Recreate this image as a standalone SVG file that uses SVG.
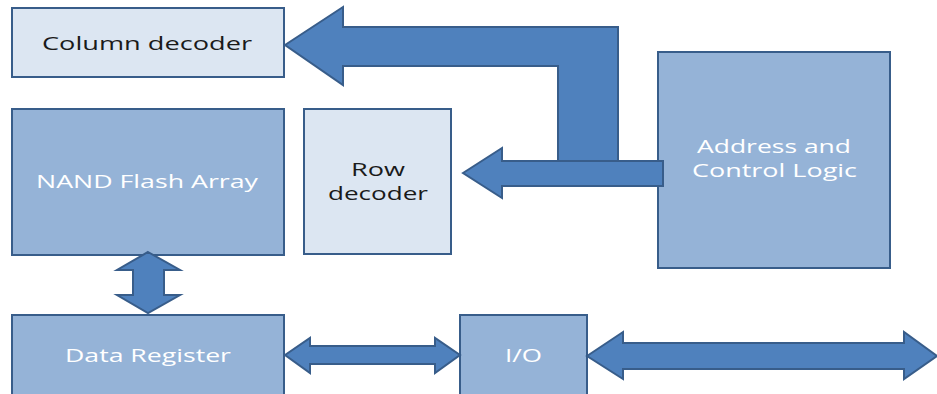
<svg xmlns="http://www.w3.org/2000/svg" width="937" height="394" viewBox="0 0 937 394">
  <style>
    .light { fill: #dce6f2; stroke: #385d8a; stroke-width: 2; }
    .mid { fill: #95b3d7; stroke: #385d8a; stroke-width: 2; }
    .arrow { fill: #4f81bd; stroke: #385d8a; stroke-width: 2; stroke-linejoin: miter; }
    .lbl { font-family: "Open Sans", "Liberation Sans", sans-serif; font-size: 19px; }
    .dark { fill: #1a1a1a; }
    .white { fill: #ffffff; }
  </style>
  <rect width="937" height="394" fill="#ffffff"/>

  <g id="column-decoder">
    <rect class="light" x="12" y="8" width="272" height="69"/>
    <text class="lbl dark" x="42" y="50" textLength="210" lengthAdjust="spacingAndGlyphs">Column decoder</text>
  </g>

  <g id="nand-array">
    <rect class="mid" x="12" y="109" width="272" height="146"/>
    <text class="lbl white" x="36" y="188" textLength="222" lengthAdjust="spacingAndGlyphs">NAND Flash Array</text>
  </g>

  <g id="row-decoder">
    <rect class="light" x="304" y="109" width="147" height="145"/>
    <text class="lbl dark" x="351" y="176" textLength="54" lengthAdjust="spacingAndGlyphs">Row</text>
    <text class="lbl dark" x="328" y="200" textLength="100" lengthAdjust="spacingAndGlyphs">decoder</text>
  </g>

  <g id="control-logic">
    <rect class="mid" x="658" y="52" width="232" height="216"/>
    <text class="lbl white" x="697" y="153" textLength="154" lengthAdjust="spacingAndGlyphs">Address and</text>
    <text class="lbl white" x="692" y="177" textLength="165" lengthAdjust="spacingAndGlyphs">Control Logic</text>
  </g>

  <g id="data-register">
    <rect class="mid" x="12" y="315" width="272" height="90"/>
    <text class="lbl white" x="65" y="362" textLength="166" lengthAdjust="spacingAndGlyphs">Data Register</text>
  </g>

  <g id="io">
    <rect class="mid" x="460" y="315" width="127" height="90"/>
    <text class="lbl white" x="505" y="362" textLength="37" lengthAdjust="spacingAndGlyphs">I/O</text>
  </g>

  <!-- block arrows, drawn over the box edges they touch -->
  <g id="connectors">
    <!-- bent arrow: control logic to column decoder -->
    <path class="arrow" d="M285,45 L343,7 L343,27 L618,27 L618,161 L558,161 L558,66 L343,66 L343,85 Z"/>
    <!-- arrow: control logic to row decoder -->
    <path class="arrow" d="M463,173 L502,148 L502,161 L663,161 L663,186 L502,186 L502,198 Z"/>
    <!-- array <-> data register -->
    <path class="arrow" d="M148,252 L180,270 L164,270 L164,295 L180,295 L148,313 L117,295 L133,295 L133,270 L117,270 Z"/>
    <!-- data register <-> I/O -->
    <path class="arrow" d="M285,355 L310,338 L310,346 L435,346 L435,338 L460,355 L435,373 L435,364 L310,364 L310,373 Z"/>
    <!-- I/O <-> external -->
    <path class="arrow" d="M587,356 L623,332 L623,343 L904,343 L904,332 L937,356 L904,379 L904,369 L623,369 L623,379 Z"/>
  </g>
</svg>
